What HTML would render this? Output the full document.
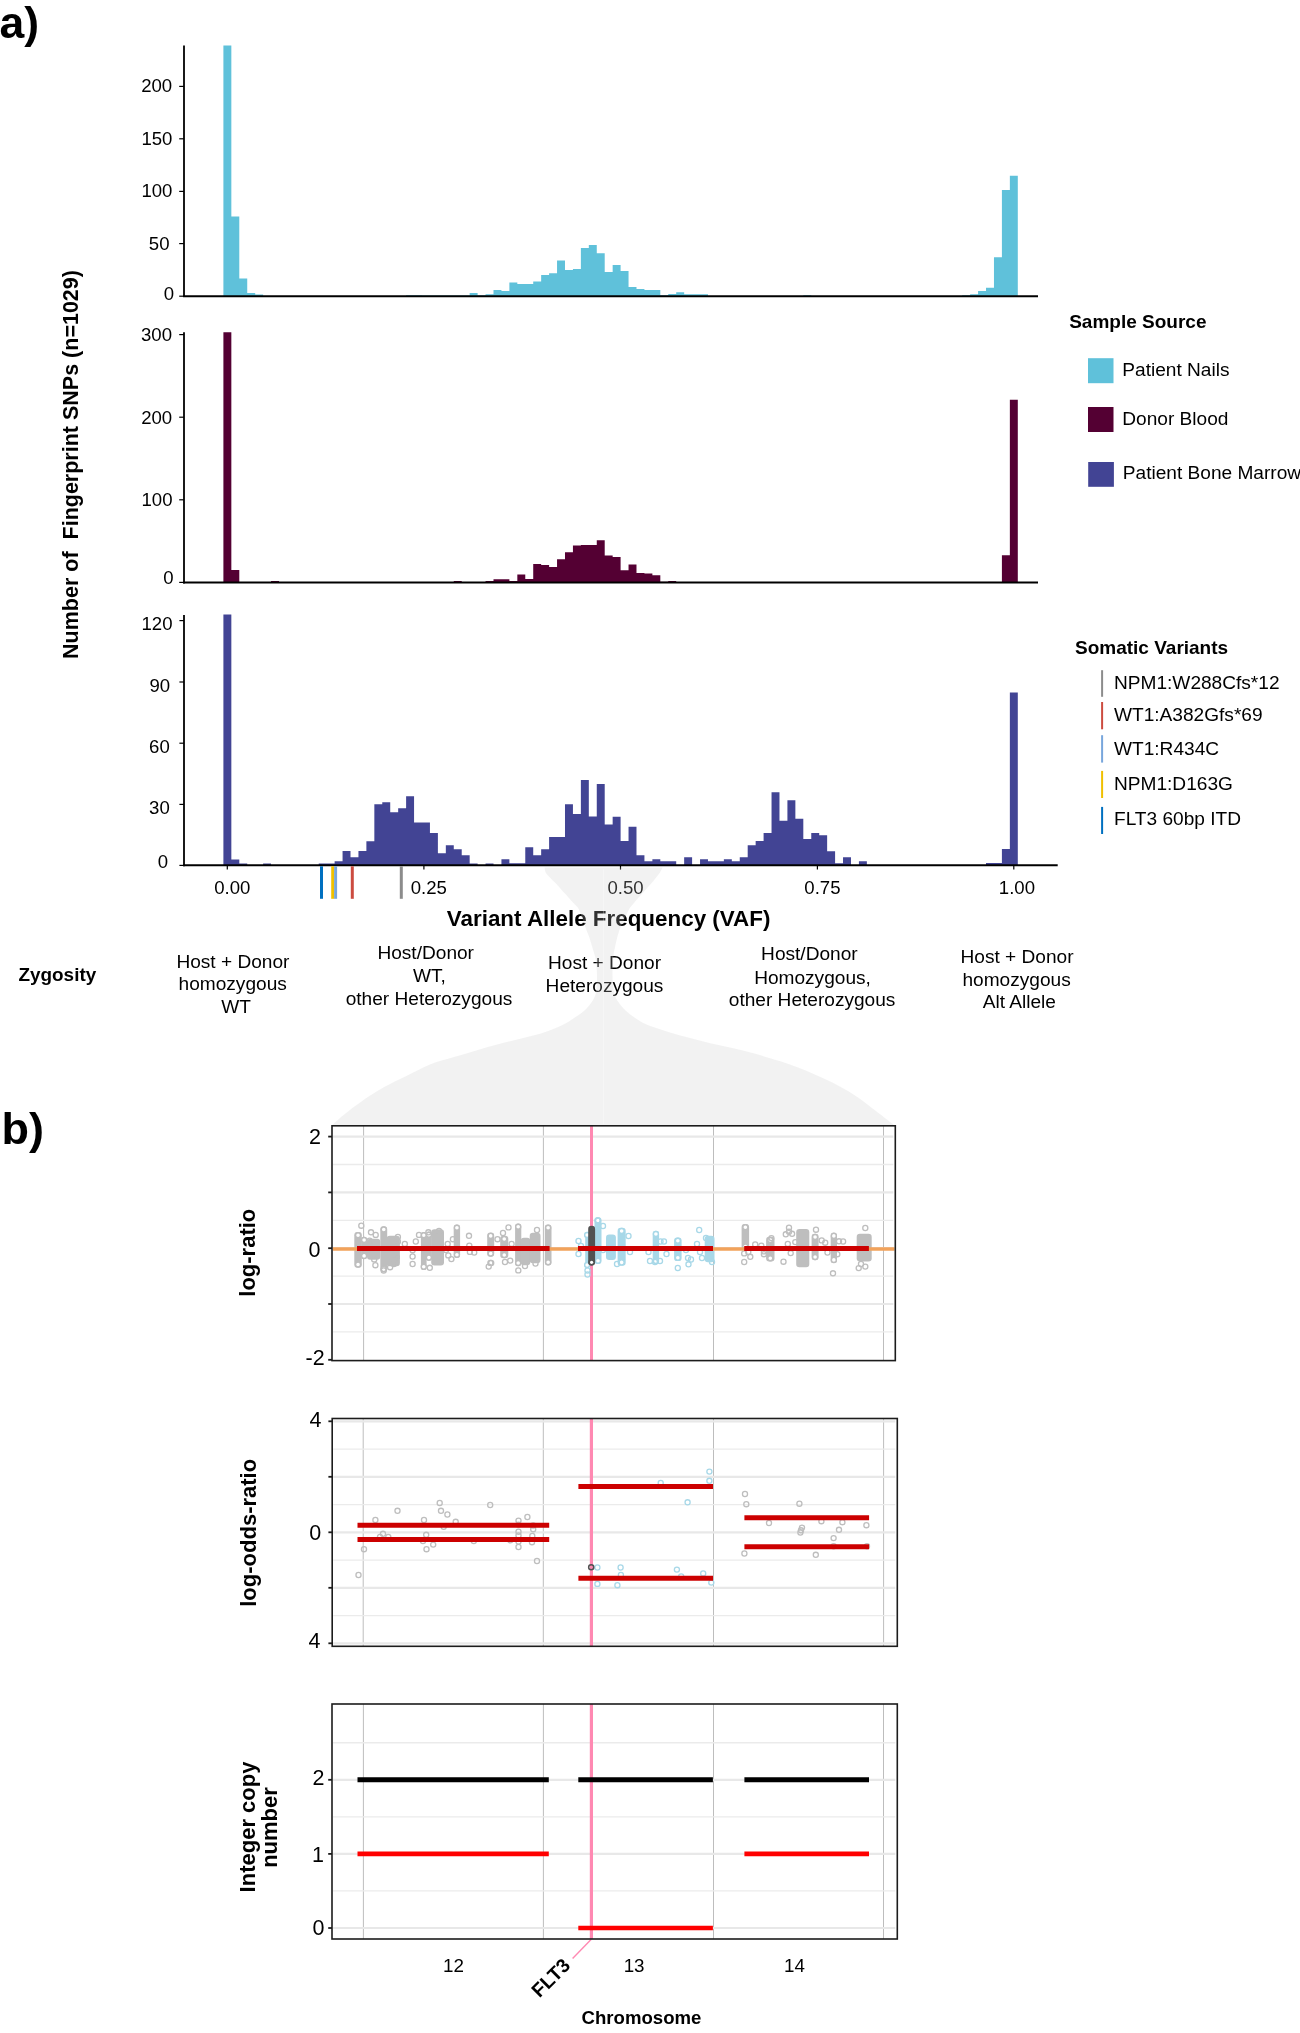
<!DOCTYPE html>
<html><head><meta charset="utf-8"><title>Figure</title>
<style>
html,body{margin:0;padding:0;background:#fff;}
body{width:1300px;height:2033px;overflow:hidden;font-family:"Liberation Sans",sans-serif;}
svg{display:block;position:absolute;left:0;top:0;will-change:transform;}
svg text{font-family:"Liberation Sans",sans-serif;}
</style></head><body>
<svg width="1300" height="2033" viewBox="0 0 1300 2033"><path d="M223.4,296.5L223.4,45.6L231.34,45.6L231.34,216.4L239.29,216.4L239.29,278.4L247.23,278.4L247.23,293L255.18,293L255.18,294.6L263.12,294.6L263.12,296.5L271.06,296.5L271.06,296.5L279.01,296.5L279.01,296.5L286.95,296.5L286.95,296.5L294.9,296.5L294.9,296.5L302.84,296.5L302.84,296.5L310.78,296.5L310.78,296.5L318.73,296.5L318.73,296.5L326.67,296.5L326.67,296.5L334.62,296.5L334.62,296.5L342.56,296.5L342.56,296.5L350.5,296.5L350.5,296.5L358.45,296.5L358.45,296.5L366.39,296.5L366.39,296.5L374.34,296.5L374.34,296.5L382.28,296.5L382.28,296.5L390.22,296.5L390.22,296.5L398.17,296.5L398.17,296.5L406.11,296.5L406.11,295.3L414.06,295.3L414.06,295.3L422,295.3L422,295.4L429.94,295.4L429.94,295.4L437.89,295.4L437.89,295.4L445.83,295.4L445.83,295.4L453.78,295.4L453.78,295.4L461.72,295.4L461.72,295.4L469.66,295.4L469.66,293L477.61,293L477.61,295.2L485.55,295.2L485.55,294.2L493.5,294.2L493.5,290L501.44,290L501.44,291L509.38,291L509.38,282.5L517.33,282.5L517.33,284L525.27,284L525.27,284L533.22,284L533.22,281.5L541.16,281.5L541.16,275L549.1,275L549.1,273.2L557.05,273.2L557.05,260.4L564.99,260.4L564.99,270L572.94,270L572.94,269L580.88,269L580.88,248L588.82,248L588.82,245L596.77,245L596.77,253.2L604.71,253.2L604.71,272L612.66,272L612.66,265L620.6,265L620.6,271L628.54,271L628.54,287L636.49,287L636.49,289L644.43,289L644.43,290L652.38,290L652.38,290L660.32,290L660.32,295.2L668.26,295.2L668.26,294L676.21,294L676.21,292.2L684.15,292.2L684.15,294.2L692.1,294.2L692.1,294.2L700.04,294.2L700.04,294.2L707.98,294.2L707.98,296.5L715.93,296.5L715.93,296.5L723.87,296.5L723.87,296.5L731.82,296.5L731.82,296.5L739.76,296.5L739.76,296.5L747.7,296.5L747.7,296.5L755.65,296.5L755.65,296.5L763.59,296.5L763.59,296.5L771.54,296.5L771.54,296.5L779.48,296.5L779.48,296.5L787.42,296.5L787.42,296.5L795.37,296.5L795.37,296.5L803.31,296.5L803.31,295.2L811.26,295.2L811.26,296.5L819.2,296.5L819.2,296.5L827.14,296.5L827.14,296.5L835.09,296.5L835.09,296.5L843.03,296.5L843.03,296.5L850.98,296.5L850.98,296.5L858.92,296.5L858.92,296.5L866.86,296.5L866.86,296.5L874.81,296.5L874.81,296.5L882.75,296.5L882.75,296.5L890.7,296.5L890.7,296.5L898.64,296.5L898.64,296.5L906.58,296.5L906.58,296.5L914.53,296.5L914.53,296.5L922.47,296.5L922.47,296.5L930.42,296.5L930.42,296.5L938.36,296.5L938.36,296.5L946.3,296.5L946.3,296.5L954.25,296.5L954.25,296.5L962.19,296.5L962.19,295.3L970.14,295.3L970.14,294.2L978.08,294.2L978.08,291L986.02,291L986.02,287.8L993.97,287.8L993.97,257.2L1001.91,257.2L1001.91,190L1009.86,190L1009.86,175.8L1017.8,175.8L1017.8,296.5Z" fill="#5fc1da"/>
<line x1="184" y1="45.6" x2="184" y2="297" stroke="#000" stroke-width="1.8"/>
<line x1="183.1" y1="296.2" x2="1038" y2="296.2" stroke="#000" stroke-width="2"/>
<line x1="179.2" y1="86.4" x2="184" y2="86.4" stroke="#000" stroke-width="1.2"/>
<line x1="179.2" y1="138.8" x2="184" y2="138.8" stroke="#000" stroke-width="1.2"/>
<line x1="179.2" y1="191.4" x2="184" y2="191.4" stroke="#000" stroke-width="1.2"/>
<line x1="179.2" y1="243.6" x2="184" y2="243.6" stroke="#000" stroke-width="1.2"/>
<line x1="179.2" y1="296.2" x2="184" y2="296.2" stroke="#000" stroke-width="1.2"/>
<path d="M223.4,583L223.4,332.2L231.34,332.2L231.34,570L239.29,570L239.29,583L247.23,583L247.23,583L255.18,583L255.18,583L263.12,583L263.12,583L271.06,583L271.06,581L279.01,581L279.01,583L286.95,583L286.95,583L294.9,583L294.9,583L302.84,583L302.84,583L310.78,583L310.78,583L318.73,583L318.73,583L326.67,583L326.67,583L334.62,583L334.62,583L342.56,583L342.56,583L350.5,583L350.5,583L358.45,583L358.45,583L366.39,583L366.39,583L374.34,583L374.34,583L382.28,583L382.28,583L390.22,583L390.22,583L398.17,583L398.17,582.2L406.11,582.2L406.11,582.2L414.06,582.2L414.06,583L422,583L422,583L429.94,583L429.94,583L437.89,583L437.89,583L445.83,583L445.83,583L453.78,583L453.78,581L461.72,581L461.72,583L469.66,583L469.66,583L477.61,583L477.61,583L485.55,583L485.55,581L493.5,581L493.5,579.2L501.44,579.2L501.44,579.2L509.38,579.2L509.38,581L517.33,581L517.33,574.5L525.27,574.5L525.27,579L533.22,579L533.22,564L541.16,564L541.16,565L549.1,565L549.1,567L557.05,567L557.05,559.2L564.99,559.2L564.99,552.2L572.94,552.2L572.94,545.5L580.88,545.5L580.88,545L588.82,545L588.82,545L596.77,545L596.77,540.3L604.71,540.3L604.71,555.5L612.66,555.5L612.66,557L620.6,557L620.6,570.2L628.54,570.2L628.54,564.5L636.49,564.5L636.49,573L644.43,573L644.43,573.5L652.38,573.5L652.38,575.2L660.32,575.2L660.32,581.8L668.26,581.8L668.26,581L676.21,581L676.21,582L684.15,582L684.15,582L692.1,582L692.1,582L700.04,582L700.04,583L707.98,583L707.98,583L715.93,583L715.93,583L723.87,583L723.87,583L731.82,583L731.82,583L739.76,583L739.76,583L747.7,583L747.7,583L755.65,583L755.65,583L763.59,583L763.59,583L771.54,583L771.54,583L779.48,583L779.48,583L787.42,583L787.42,583L795.37,583L795.37,583L803.31,583L803.31,583L811.26,583L811.26,583L819.2,583L819.2,583L827.14,583L827.14,583L835.09,583L835.09,583L843.03,583L843.03,583L850.98,583L850.98,583L858.92,583L858.92,583L866.86,583L866.86,583L874.81,583L874.81,583L882.75,583L882.75,583L890.7,583L890.7,583L898.64,583L898.64,583L906.58,583L906.58,583L914.53,583L914.53,583L922.47,583L922.47,583L930.42,583L930.42,583L938.36,583L938.36,583L946.3,583L946.3,583L954.25,583L954.25,583L962.19,583L962.19,583L970.14,583L970.14,583L978.08,583L978.08,583L986.02,583L986.02,583L993.97,583L993.97,583L1001.91,583L1001.91,555.3L1009.86,555.3L1009.86,399.8L1017.8,399.8L1017.8,583Z" fill="#540033"/>
<line x1="184" y1="332.2" x2="184" y2="583.4" stroke="#000" stroke-width="1.8"/>
<line x1="183.1" y1="582.6" x2="1038" y2="582.6" stroke="#000" stroke-width="2"/>
<line x1="179.2" y1="334.6" x2="184" y2="334.6" stroke="#000" stroke-width="1.2"/>
<line x1="179.2" y1="417.2" x2="184" y2="417.2" stroke="#000" stroke-width="1.2"/>
<line x1="179.2" y1="499.8" x2="184" y2="499.8" stroke="#000" stroke-width="1.2"/>
<line x1="179.2" y1="582.4" x2="184" y2="582.4" stroke="#000" stroke-width="1.2"/>
<path d="M223.4,865.5L223.4,614.6L231.34,614.6L231.34,859.4L239.29,859.4L239.29,863.4L247.23,863.4L247.23,865.5L255.18,865.5L255.18,865.5L263.12,865.5L263.12,863.4L271.06,863.4L271.06,865.5L279.01,865.5L279.01,865.5L286.95,865.5L286.95,865.5L294.9,865.5L294.9,865.5L302.84,865.5L302.84,865.5L310.78,865.5L310.78,865.5L318.73,865.5L318.73,863.6L326.67,863.6L326.67,863.6L334.62,863.6L334.62,861.2L342.56,861.2L342.56,851L350.5,851L350.5,857.2L358.45,857.2L358.45,851L366.39,851L366.39,841.2L374.34,841.2L374.34,804.2L382.28,804.2L382.28,802.2L390.22,802.2L390.22,812.2L398.17,812.2L398.17,808.2L406.11,808.2L406.11,796.2L414.06,796.2L414.06,822.5L422,822.5L422,822.5L429.94,822.5L429.94,833L437.89,833L437.89,853.2L445.83,853.2L445.83,845.2L453.78,845.2L453.78,849.2L461.72,849.2L461.72,855.2L469.66,855.2L469.66,863.5L477.61,863.5L477.61,865.5L485.55,865.5L485.55,863.4L493.5,863.4L493.5,865.5L501.44,865.5L501.44,859.2L509.38,859.2L509.38,863.2L517.33,863.2L517.33,863.2L525.27,863.2L525.27,847.2L533.22,847.2L533.22,855.2L541.16,855.2L541.16,849.2L549.1,849.2L549.1,837L557.05,837L557.05,837L564.99,837L564.99,804.2L572.94,804.2L572.94,814L580.88,814L580.88,780L588.82,780L588.82,816.5L596.77,816.5L596.77,784L604.71,784L604.71,824.5L612.66,824.5L612.66,816.8L620.6,816.8L620.6,841L628.54,841L628.54,826.8L636.49,826.8L636.49,855.2L644.43,855.2L644.43,861.2L652.38,861.2L652.38,859.2L660.32,859.2L660.32,861.2L668.26,861.2L668.26,861.2L676.21,861.2L676.21,865.5L684.15,865.5L684.15,857.2L692.1,857.2L692.1,865.5L700.04,865.5L700.04,859.2L707.98,859.2L707.98,861.2L715.93,861.2L715.93,861.2L723.87,861.2L723.87,859.2L731.82,859.2L731.82,861.2L739.76,861.2L739.76,857.2L747.7,857.2L747.7,845.2L755.65,845.2L755.65,841L763.59,841L763.59,833L771.54,833L771.54,792.2L779.48,792.2L779.48,820.8L787.42,820.8L787.42,800.2L795.37,800.2L795.37,818.8L803.31,818.8L803.31,839L811.26,839L811.26,833L819.2,833L819.2,835.2L827.14,835.2L827.14,851.2L835.09,851.2L835.09,863.2L843.03,863.2L843.03,857.2L850.98,857.2L850.98,865.5L858.92,865.5L858.92,861.2L866.86,861.2L866.86,865.5L874.81,865.5L874.81,865.5L882.75,865.5L882.75,865.5L890.7,865.5L890.7,865.5L898.64,865.5L898.64,865.5L906.58,865.5L906.58,865.5L914.53,865.5L914.53,865.5L922.47,865.5L922.47,865.5L930.42,865.5L930.42,865.5L938.36,865.5L938.36,865.5L946.3,865.5L946.3,865.5L954.25,865.5L954.25,865.5L962.19,865.5L962.19,865.5L970.14,865.5L970.14,865.5L978.08,865.5L978.08,865.5L986.02,865.5L986.02,863.1L993.97,863.1L993.97,863.1L1001.91,863.1L1001.91,849L1009.86,849L1009.86,692.5L1017.8,692.5L1017.8,865.5Z" fill="#424494"/>
<line x1="184" y1="615" x2="184" y2="866.2" stroke="#000" stroke-width="1.8"/>
<line x1="183.1" y1="865.3" x2="1057.7" y2="865.3" stroke="#000" stroke-width="2"/>
<line x1="179.4" y1="620.6" x2="184" y2="620.6" stroke="#000" stroke-width="1.2"/>
<line x1="179.4" y1="682" x2="184" y2="682" stroke="#000" stroke-width="1.2"/>
<line x1="179.4" y1="743.2" x2="184" y2="743.2" stroke="#000" stroke-width="1.2"/>
<line x1="179.4" y1="804.4" x2="184" y2="804.4" stroke="#000" stroke-width="1.2"/>
<line x1="179.4" y1="865.4" x2="184" y2="865.4" stroke="#000" stroke-width="1.2"/>
<line x1="227.3" y1="865" x2="227.3" y2="869.6" stroke="#000" stroke-width="1.2"/>
<line x1="423.9" y1="865" x2="423.9" y2="869.6" stroke="#000" stroke-width="1.2"/>
<line x1="620.5" y1="865" x2="620.5" y2="869.6" stroke="#000" stroke-width="1.2"/>
<line x1="817.4" y1="865" x2="817.4" y2="869.6" stroke="#000" stroke-width="1.2"/>
<line x1="1013.8" y1="865" x2="1013.8" y2="869.6" stroke="#000" stroke-width="1.2"/>
<line x1="321.5" y1="866.3" x2="321.5" y2="898.8" stroke="#0070c0" stroke-width="3"/>
<line x1="332.7" y1="866.3" x2="332.7" y2="898.8" stroke="#f0c000" stroke-width="3"/>
<line x1="335.6" y1="866.3" x2="335.6" y2="898.8" stroke="#78a6dc" stroke-width="3"/>
<line x1="352.3" y1="866.3" x2="352.3" y2="898.8" stroke="#cc4c40" stroke-width="3"/>
<line x1="401.3" y1="866.3" x2="401.3" y2="898.8" stroke="#8c8c8c" stroke-width="3"/>
<g font-family="Liberation Sans, sans-serif">
<text x="-0.6" y="38.2" font-size="44.5" font-weight="bold">a)</text>
<text x="156.65" y="92.4" font-size="18.6" text-anchor="middle">200</text>
<text x="156.95" y="144.6" font-size="18.6" text-anchor="middle">150</text>
<text x="156.95" y="197.2" font-size="18.6" text-anchor="middle">100</text>
<text x="159.2" y="249.8" font-size="18.6" text-anchor="middle">50</text>
<text x="168.9" y="300.2" font-size="18.6" text-anchor="middle">0</text>
<text x="156.55" y="341" font-size="18.6" text-anchor="middle">300</text>
<text x="156.65" y="423.7" font-size="18.6" text-anchor="middle">200</text>
<text x="157.05" y="505.8" font-size="18.6" text-anchor="middle">100</text>
<text x="168.35" y="583.5" font-size="18.6" text-anchor="middle">0</text>
<text x="157.05" y="630" font-size="18.6" text-anchor="middle">120</text>
<text x="159.75" y="691.7" font-size="18.6" text-anchor="middle">90</text>
<text x="159.45" y="752.8" font-size="18.6" text-anchor="middle">60</text>
<text x="159.45" y="813.9" font-size="18.6" text-anchor="middle">30</text>
<text x="162.9" y="867.6" font-size="18.6" text-anchor="middle">0</text>
<text x="232.3" y="894.4" font-size="18.6" text-anchor="middle">0.00</text>
<text x="428.75" y="894.4" font-size="18.6" text-anchor="middle">0.25</text>
<text x="625.55" y="894.4" font-size="18.6" text-anchor="middle">0.50</text>
<text x="822.45" y="894.4" font-size="18.6" text-anchor="middle">0.75</text>
<text x="1016.9" y="894.4" font-size="18.6" text-anchor="middle">1.00</text>
<text transform="translate(78.2,464.5) rotate(-90)" font-size="21.5" font-weight="bold" text-anchor="middle">Number of&#160; Fingerprint SNPs (n=1029)</text>
<text x="608.6" y="925.5" font-size="22.4" font-weight="bold" text-anchor="middle">Variant Allele Frequency (VAF)</text>
<text x="1069.2" y="327.7" font-size="19" font-weight="bold">Sample Source</text>
<rect x="1088" y="358.2" width="25.5" height="25" fill="#5fc1da"/>
<rect x="1088" y="407" width="25.5" height="25" fill="#540033"/>
<rect x="1088.2" y="462" width="25.7" height="24.8" fill="#424494"/>
<text x="1122.3" y="375.7" font-size="19.1">Patient Nails</text>
<text x="1122.3" y="424.6" font-size="19.1">Donor Blood</text>
<text x="1122.8" y="479" font-size="19.1">Patient Bone Marrow</text>
<text x="1075" y="653.6" font-size="19" font-weight="bold">Somatic Variants</text>
<line x1="1102.1" y1="670.2" x2="1102.1" y2="696.8" stroke="#8c8c8c" stroke-width="2"/>
<line x1="1102.1" y1="702" x2="1102.1" y2="729.3" stroke="#cc4c40" stroke-width="2"/>
<line x1="1102.1" y1="735.2" x2="1102.1" y2="762.6" stroke="#78a6dc" stroke-width="2"/>
<line x1="1102.1" y1="770.9" x2="1102.1" y2="798" stroke="#f0c000" stroke-width="2"/>
<line x1="1102.1" y1="806.9" x2="1102.1" y2="834" stroke="#0070c0" stroke-width="2"/>
<text x="1114" y="688.7" font-size="19.1">NPM1:W288Cfs*12</text>
<text x="1114" y="720.8" font-size="19.1">WT1:A382Gfs*69</text>
<text x="1114" y="754.6" font-size="19.1">WT1:R434C</text>
<text x="1114" y="789.7" font-size="19.1">NPM1:D163G</text>
<text x="1114" y="825.3" font-size="19.1">FLT3 60bp ITD</text>
<text x="18.5" y="980.8" font-size="18.9" font-weight="bold">Zygosity</text>
<text x="232.9" y="967.6" font-size="19.1" text-anchor="middle">Host + Donor</text>
<text x="232.7" y="990.2" font-size="19.1" text-anchor="middle">homozygous</text>
<text x="236" y="1012.5" font-size="19.1" text-anchor="middle">WT</text>
<text x="425.7" y="959.3" font-size="19.1" text-anchor="middle">Host/Donor</text>
<text x="429.4" y="982" font-size="19.1" text-anchor="middle">WT,</text>
<text x="429" y="1004.9" font-size="19.1" text-anchor="middle">other Heterozygous</text>
<text x="604.5" y="969" font-size="19.1" text-anchor="middle">Host + Donor</text>
<text x="604.5" y="991.8" font-size="19.1" text-anchor="middle">Heterozygous</text>
<text x="809.4" y="960.1" font-size="19.1" text-anchor="middle">Host/Donor</text>
<text x="812.5" y="983.5" font-size="19.1" text-anchor="middle">Homozygous,</text>
<text x="812.1" y="1006" font-size="19.1" text-anchor="middle">other Heterozygous</text>
<text x="1017" y="962.7" font-size="19.1" text-anchor="middle">Host + Donor</text>
<text x="1016.6" y="985.5" font-size="19.1" text-anchor="middle">homozygous</text>
<text x="1019.3" y="1008" font-size="19.1" text-anchor="middle">Alt Allele</text>
</g>
<path d="M544.6,867.6C544.8,868.47 544.8,871.03 545.8,872.8C546.8,874.57 548.9,876.42 550.6,878.2C552.3,879.98 554.3,881.72 556,883.5C557.7,885.28 559.18,887.1 560.8,888.9C562.42,890.7 564.08,892.5 565.7,894.3C567.32,896.1 568.88,897.9 570.5,899.7C572.12,901.5 573.92,903.3 575.4,905.1C576.88,906.9 577.78,906.92 579.4,910.5C581.02,914.08 583.8,923.02 585.1,926.6C586.4,930.18 586.48,930.2 587.2,932C587.92,933.8 588.77,935.6 589.4,937.4C590.03,939.2 590.47,941 591,942.8C591.53,944.6 592.07,946.42 592.6,948.2C593.13,949.98 593.65,951.53 594.2,953.5C594.75,955.47 595.47,957.25 595.9,960C596.33,962.75 596.62,966.67 596.8,970C596.98,973.33 597.05,976.67 597,980C596.95,983.33 596.9,987.18 596.5,990C596.1,992.82 595.6,994.6 594.6,996.9C593.6,999.2 592.23,1001.48 590.5,1003.8C588.77,1006.12 586.87,1008.48 584.2,1010.8C581.53,1013.12 578.12,1015.33 574.5,1017.7C570.88,1020.07 567.35,1022.63 562.5,1025C557.65,1027.37 552.1,1029.68 545.4,1031.9C538.7,1034.12 530,1036.28 522.3,1038.3C514.6,1040.32 506.88,1041.98 499.2,1044C491.52,1046.02 483.88,1048.18 476.2,1050.4C468.52,1052.62 460.8,1054.95 453.1,1057.3C445.4,1059.65 437.7,1061.42 430,1064.5C422.3,1067.58 414.6,1072 406.9,1075.8C399.2,1079.6 391.48,1082.95 383.8,1087.3C376.12,1091.65 367.2,1097.53 360.8,1101.9C354.4,1106.27 349.9,1109.9 345.4,1113.5C340.9,1117.1 335.95,1121.58 333.8,1123.5C331.65,1125.42 332.72,1124.75 332.5,1125L893.5,1125C893.17,1124.67 894.65,1125.52 891.5,1123C888.35,1120.48 880.23,1114.2 874.6,1109.9C868.97,1105.6 863.33,1101 857.7,1097.2C852.07,1093.4 846.45,1090.2 840.8,1087.1C835.15,1084 829.45,1081.28 823.8,1078.6C818.15,1075.92 812.53,1073.35 806.9,1071C801.27,1068.65 794.73,1066.2 790,1064.5C785.27,1062.8 784.27,1062.58 778.5,1060.8C772.73,1059.02 763.1,1055.92 755.4,1053.8C747.7,1051.68 740,1049.92 732.3,1048.1C724.6,1046.28 716.88,1044.73 709.2,1042.9C701.52,1041.07 693.88,1039.22 686.2,1037.1C678.52,1034.98 669.7,1032.28 663.1,1030.2C656.5,1028.12 651.32,1026.68 646.6,1024.6C641.88,1022.52 638.27,1020 634.8,1017.7C631.33,1015.4 628.33,1013.12 625.8,1010.8C623.27,1008.48 621.33,1006.12 619.6,1003.8C617.87,1001.48 616.42,999.2 615.4,996.9C614.38,994.6 613.97,992.82 613.5,990C613.03,987.18 612.77,983.33 612.6,980C612.43,976.67 612.45,973.33 612.5,970C612.55,966.67 612.7,962.75 612.9,960C613.1,957.25 613.38,955.47 613.7,953.5C614.02,951.53 614.43,949.98 614.8,948.2C615.17,946.42 615.5,944.6 615.9,942.8C616.3,941 616.72,939.2 617.2,937.4C617.68,935.6 618.17,933.8 618.8,932C619.43,930.2 619.38,930.18 621,926.6C622.62,923.02 626.62,914.08 628.5,910.5C630.38,906.92 630.95,906.9 632.3,905.1C633.65,903.3 635.07,901.5 636.6,899.7C638.13,897.9 639.88,896.1 641.5,894.3C643.12,892.5 644.68,890.7 646.3,888.9C647.92,887.1 649.67,885.28 651.2,883.5C652.73,881.72 654.07,879.98 655.5,878.2C656.93,876.42 658.62,874.57 659.8,872.8C660.98,871.03 662.13,868.47 662.6,867.6Z" fill="#c9c9c9" fill-opacity="0.24"/>
<line x1="603.6" y1="869" x2="603.6" y2="1124" stroke="#ffffff" stroke-width="0.6" stroke-opacity="0.5"/>
<rect x="332" y="1125.8" width="563.3" height="234.8" fill="#fff"/>
<line x1="363.6" y1="1125.8" x2="363.6" y2="1360.6" stroke="#bdbdbd" stroke-width="1"/>
<line x1="543.4" y1="1125.8" x2="543.4" y2="1360.6" stroke="#bdbdbd" stroke-width="1"/>
<line x1="713.5" y1="1125.8" x2="713.5" y2="1360.6" stroke="#bdbdbd" stroke-width="1"/>
<line x1="883.5" y1="1125.8" x2="883.5" y2="1360.6" stroke="#bdbdbd" stroke-width="1"/>
<line x1="333" y1="1164.5" x2="893.3" y2="1164.5" stroke="#ebebeb" stroke-width="1.3"/>
<line x1="333" y1="1220.3" x2="893.3" y2="1220.3" stroke="#ebebeb" stroke-width="1.3"/>
<line x1="333" y1="1276.1" x2="893.3" y2="1276.1" stroke="#ebebeb" stroke-width="1.3"/>
<line x1="333" y1="1331.9" x2="893.3" y2="1331.9" stroke="#ebebeb" stroke-width="1.3"/>
<line x1="333" y1="1136.6" x2="893.3" y2="1136.6" stroke="#e8e8e8" stroke-width="2.2"/>
<line x1="333" y1="1192.4" x2="893.3" y2="1192.4" stroke="#e8e8e8" stroke-width="2.2"/>
<line x1="333" y1="1248.2" x2="893.3" y2="1248.2" stroke="#e8e8e8" stroke-width="2.2"/>
<line x1="333" y1="1304" x2="893.3" y2="1304" stroke="#e8e8e8" stroke-width="2.2"/>
<line x1="591.5" y1="1125.8" x2="591.5" y2="1360.6" stroke="#ff89b2" stroke-width="3"/>
<rect x="354.3" y="1232" width="7.5" height="35.8" rx="3.2" fill="#bebebe"/>
<circle cx="358.05" cy="1235.3" r="2.5" fill="#fff" stroke="#bebebe" stroke-width="1.4"/>
<circle cx="358.05" cy="1264.5" r="2.5" fill="#fff" stroke="#bebebe" stroke-width="1.4"/>
<rect x="361.2" y="1236.7" width="5.8" height="22.5" rx="3.2" fill="#bebebe"/>
<circle cx="364.1" cy="1240" r="2.5" fill="#fff" stroke="#bebebe" stroke-width="1.4"/>
<circle cx="364.1" cy="1255.9" r="2.5" fill="#fff" stroke="#bebebe" stroke-width="1.4"/>
<rect x="367" y="1238.7" width="13.3" height="21.1" rx="3.2" fill="#bebebe"/>
<rect x="380.3" y="1226.2" width="6.9" height="46.2" rx="3.2" fill="#bebebe"/>
<circle cx="383.75" cy="1229.5" r="2.5" fill="#fff" stroke="#bebebe" stroke-width="1.4"/>
<circle cx="383.75" cy="1269.1" r="2.5" fill="#fff" stroke="#bebebe" stroke-width="1.4"/>
<rect x="386.6" y="1235.7" width="13.3" height="30.6" rx="3.2" fill="#bebebe"/>
<rect x="420.9" y="1232" width="5.7" height="38.1" rx="3.2" fill="#bebebe"/>
<circle cx="423.75" cy="1235.3" r="2.5" fill="#fff" stroke="#bebebe" stroke-width="1.4"/>
<circle cx="423.75" cy="1266.8" r="2.5" fill="#fff" stroke="#bebebe" stroke-width="1.4"/>
<rect x="426" y="1231.4" width="5.8" height="29.5" rx="3.2" fill="#bebebe"/>
<circle cx="428.9" cy="1234.7" r="2.5" fill="#fff" stroke="#bebebe" stroke-width="1.4"/>
<circle cx="428.9" cy="1257.6" r="2.5" fill="#fff" stroke="#bebebe" stroke-width="1.4"/>
<rect x="431.2" y="1229.2" width="12.8" height="36.3" rx="3.2" fill="#bebebe"/>
<rect x="453.7" y="1224.5" width="6.4" height="33.5" rx="3.2" fill="#bebebe"/>
<circle cx="456.9" cy="1227.8" r="2.5" fill="#fff" stroke="#bebebe" stroke-width="1.4"/>
<circle cx="456.9" cy="1254.7" r="2.5" fill="#fff" stroke="#bebebe" stroke-width="1.4"/>
<rect x="487.2" y="1232.6" width="7" height="24.2" rx="3.2" fill="#bebebe"/>
<circle cx="490.7" cy="1235.9" r="2.5" fill="#fff" stroke="#bebebe" stroke-width="1.4"/>
<circle cx="490.7" cy="1253.5" r="2.5" fill="#fff" stroke="#bebebe" stroke-width="1.4"/>
<rect x="500.2" y="1235.7" width="8.1" height="22.6" rx="3.2" fill="#bebebe"/>
<circle cx="504.25" cy="1239" r="2.5" fill="#fff" stroke="#bebebe" stroke-width="1.4"/>
<circle cx="504.25" cy="1255" r="2.5" fill="#fff" stroke="#bebebe" stroke-width="1.4"/>
<rect x="515.1" y="1223.4" width="6.2" height="42.9" rx="3.2" fill="#bebebe"/>
<circle cx="518.2" cy="1226.7" r="2.5" fill="#fff" stroke="#bebebe" stroke-width="1.4"/>
<circle cx="518.2" cy="1263" r="2.5" fill="#fff" stroke="#bebebe" stroke-width="1.4"/>
<rect x="520.7" y="1237.7" width="9.6" height="27.6" rx="3.2" fill="#bebebe"/>
<rect x="529.7" y="1232.7" width="10.8" height="30.6" rx="3.2" fill="#bebebe"/>
<rect x="544.8" y="1224.5" width="6.7" height="41" rx="3.2" fill="#bebebe"/>
<circle cx="548.15" cy="1227.8" r="2.5" fill="#fff" stroke="#bebebe" stroke-width="1.4"/>
<circle cx="548.15" cy="1262.2" r="2.5" fill="#fff" stroke="#bebebe" stroke-width="1.4"/>
<rect x="741.6" y="1223.9" width="7.5" height="26" rx="3.2" fill="#bebebe"/>
<circle cx="745.35" cy="1227.2" r="2.5" fill="#fff" stroke="#bebebe" stroke-width="1.4"/>
<circle cx="745.35" cy="1246.6" r="2.5" fill="#fff" stroke="#bebebe" stroke-width="1.4"/>
<rect x="766.1" y="1236.7" width="8.4" height="24.8" rx="3.2" fill="#bebebe"/>
<circle cx="770.3" cy="1240" r="2.5" fill="#fff" stroke="#bebebe" stroke-width="1.4"/>
<circle cx="770.3" cy="1258.2" r="2.5" fill="#fff" stroke="#bebebe" stroke-width="1.4"/>
<rect x="796.2" y="1229.1" width="13.1" height="38.2" rx="3.2" fill="#bebebe"/>
<rect x="811.6" y="1233.7" width="7" height="26.6" rx="3.2" fill="#bebebe"/>
<circle cx="815.1" cy="1237" r="2.5" fill="#fff" stroke="#bebebe" stroke-width="1.4"/>
<circle cx="815.1" cy="1257" r="2.5" fill="#fff" stroke="#bebebe" stroke-width="1.4"/>
<rect x="830.7" y="1232.6" width="6.3" height="30.6" rx="3.2" fill="#bebebe"/>
<circle cx="833.85" cy="1235.9" r="2.5" fill="#fff" stroke="#bebebe" stroke-width="1.4"/>
<circle cx="833.85" cy="1259.9" r="2.5" fill="#fff" stroke="#bebebe" stroke-width="1.4"/>
<rect x="856.7" y="1233.7" width="15" height="27.8" rx="3.2" fill="#bebebe"/>
<rect x="594.5" y="1217.2" width="7" height="46.8" rx="3.2" fill="#a8d8e8"/>
<circle cx="598" cy="1220.5" r="2.5" fill="#fff" stroke="#a8d8e8" stroke-width="1.4"/>
<circle cx="598" cy="1260.7" r="2.5" fill="#fff" stroke="#a8d8e8" stroke-width="1.4"/>
<rect x="585.2" y="1231.7" width="3.9" height="36.6" rx="3.2" fill="#a8d8e8"/>
<circle cx="587.15" cy="1235" r="2.5" fill="#fff" stroke="#a8d8e8" stroke-width="1.4"/>
<circle cx="587.15" cy="1265" r="2.5" fill="#fff" stroke="#a8d8e8" stroke-width="1.4"/>
<rect x="606" y="1234.5" width="9.9" height="25.4" rx="3.2" fill="#a8d8e8"/>
<rect x="617.6" y="1227.7" width="8.1" height="38" rx="3.2" fill="#a8d8e8"/>
<circle cx="621.65" cy="1231" r="2.5" fill="#fff" stroke="#a8d8e8" stroke-width="1.4"/>
<circle cx="621.65" cy="1262.4" r="2.5" fill="#fff" stroke="#a8d8e8" stroke-width="1.4"/>
<rect x="652.7" y="1230.7" width="6.4" height="33.6" rx="3.2" fill="#a8d8e8"/>
<circle cx="655.9" cy="1234" r="2.5" fill="#fff" stroke="#a8d8e8" stroke-width="1.4"/>
<circle cx="655.9" cy="1261" r="2.5" fill="#fff" stroke="#a8d8e8" stroke-width="1.4"/>
<rect x="674.1" y="1237.4" width="7.5" height="23.7" rx="3.2" fill="#a8d8e8"/>
<circle cx="677.85" cy="1240.7" r="2.5" fill="#fff" stroke="#a8d8e8" stroke-width="1.4"/>
<circle cx="677.85" cy="1257.8" r="2.5" fill="#fff" stroke="#a8d8e8" stroke-width="1.4"/>
<rect x="704.7" y="1235.7" width="9.8" height="26.6" rx="3.2" fill="#a8d8e8"/>
<circle cx="361.3" cy="1225.7" r="2.55" fill="none" stroke="#bebebe" stroke-width="1.3"/>
<circle cx="371" cy="1232.3" r="2.55" fill="none" stroke="#bebebe" stroke-width="1.3"/>
<circle cx="375.7" cy="1234.9" r="2.55" fill="none" stroke="#bebebe" stroke-width="1.3"/>
<circle cx="369.6" cy="1240.7" r="2.55" fill="none" stroke="#bebebe" stroke-width="1.3"/>
<circle cx="374.2" cy="1259.4" r="2.55" fill="none" stroke="#bebebe" stroke-width="1.3"/>
<circle cx="375.4" cy="1265.2" r="2.55" fill="none" stroke="#bebebe" stroke-width="1.3"/>
<circle cx="397.9" cy="1237" r="2.55" fill="none" stroke="#bebebe" stroke-width="1.3"/>
<circle cx="397.9" cy="1241.5" r="2.55" fill="none" stroke="#bebebe" stroke-width="1.3"/>
<circle cx="396.7" cy="1257" r="2.55" fill="none" stroke="#bebebe" stroke-width="1.3"/>
<circle cx="393.9" cy="1264" r="2.55" fill="none" stroke="#bebebe" stroke-width="1.3"/>
<circle cx="390.1" cy="1267.2" r="2.55" fill="none" stroke="#bebebe" stroke-width="1.3"/>
<circle cx="383.7" cy="1270.5" r="2.55" fill="none" stroke="#bebebe" stroke-width="1.3"/>
<circle cx="404.8" cy="1243.9" r="2.55" fill="none" stroke="#bebebe" stroke-width="1.3"/>
<circle cx="412.6" cy="1256.5" r="2.55" fill="none" stroke="#bebebe" stroke-width="1.3"/>
<circle cx="412.6" cy="1264" r="2.55" fill="none" stroke="#bebebe" stroke-width="1.3"/>
<circle cx="412.6" cy="1250.2" r="2.55" fill="none" stroke="#bebebe" stroke-width="1.3"/>
<circle cx="415.8" cy="1241.5" r="2.55" fill="none" stroke="#bebebe" stroke-width="1.3"/>
<circle cx="419" cy="1234.9" r="2.55" fill="none" stroke="#bebebe" stroke-width="1.3"/>
<circle cx="429.8" cy="1267.8" r="2.55" fill="none" stroke="#bebebe" stroke-width="1.3"/>
<circle cx="428.4" cy="1232.3" r="2.55" fill="none" stroke="#bebebe" stroke-width="1.3"/>
<circle cx="447.7" cy="1243.9" r="2.55" fill="none" stroke="#bebebe" stroke-width="1.3"/>
<circle cx="448.3" cy="1255.4" r="2.55" fill="none" stroke="#bebebe" stroke-width="1.3"/>
<circle cx="451.4" cy="1259.1" r="2.55" fill="none" stroke="#bebebe" stroke-width="1.3"/>
<circle cx="452.9" cy="1239.2" r="2.55" fill="none" stroke="#bebebe" stroke-width="1.3"/>
<circle cx="446" cy="1250" r="2.55" fill="none" stroke="#bebebe" stroke-width="1.3"/>
<circle cx="469" cy="1235.8" r="2.55" fill="none" stroke="#bebebe" stroke-width="1.3"/>
<circle cx="469.3" cy="1245.6" r="2.55" fill="none" stroke="#bebebe" stroke-width="1.3"/>
<circle cx="469.9" cy="1251.9" r="2.55" fill="none" stroke="#bebebe" stroke-width="1.3"/>
<circle cx="474.2" cy="1252.5" r="2.55" fill="none" stroke="#bebebe" stroke-width="1.3"/>
<circle cx="490.4" cy="1262.9" r="2.55" fill="none" stroke="#bebebe" stroke-width="1.3"/>
<circle cx="488.7" cy="1266.6" r="2.55" fill="none" stroke="#bebebe" stroke-width="1.3"/>
<circle cx="508.5" cy="1227.4" r="2.55" fill="none" stroke="#bebebe" stroke-width="1.3"/>
<circle cx="497.5" cy="1239.2" r="2.55" fill="none" stroke="#bebebe" stroke-width="1.3"/>
<circle cx="511.6" cy="1243.9" r="2.55" fill="none" stroke="#bebebe" stroke-width="1.3"/>
<circle cx="510.2" cy="1260.6" r="2.55" fill="none" stroke="#bebebe" stroke-width="1.3"/>
<circle cx="491.2" cy="1262.9" r="2.55" fill="none" stroke="#bebebe" stroke-width="1.3"/>
<circle cx="518.3" cy="1270.4" r="2.55" fill="none" stroke="#bebebe" stroke-width="1.3"/>
<circle cx="537" cy="1230" r="2.55" fill="none" stroke="#bebebe" stroke-width="1.3"/>
<circle cx="535.5" cy="1263.5" r="2.55" fill="none" stroke="#bebebe" stroke-width="1.3"/>
<circle cx="503" cy="1233" r="2.55" fill="none" stroke="#bebebe" stroke-width="1.3"/>
<circle cx="505" cy="1262" r="2.55" fill="none" stroke="#bebebe" stroke-width="1.3"/>
<circle cx="439" cy="1230.9" r="2.55" fill="none" stroke="#bebebe" stroke-width="1.3"/>
<circle cx="525" cy="1266" r="2.55" fill="none" stroke="#bebebe" stroke-width="1.3"/>
<circle cx="744.2" cy="1253.4" r="2.55" fill="none" stroke="#bebebe" stroke-width="1.3"/>
<circle cx="748.3" cy="1251.9" r="2.55" fill="none" stroke="#bebebe" stroke-width="1.3"/>
<circle cx="750.3" cy="1256.8" r="2.55" fill="none" stroke="#bebebe" stroke-width="1.3"/>
<circle cx="744.2" cy="1262" r="2.55" fill="none" stroke="#bebebe" stroke-width="1.3"/>
<circle cx="755.2" cy="1244.4" r="2.55" fill="none" stroke="#bebebe" stroke-width="1.3"/>
<circle cx="761.3" cy="1245.6" r="2.55" fill="none" stroke="#bebebe" stroke-width="1.3"/>
<circle cx="763.9" cy="1254.2" r="2.55" fill="none" stroke="#bebebe" stroke-width="1.3"/>
<circle cx="763.9" cy="1251.4" r="2.55" fill="none" stroke="#bebebe" stroke-width="1.3"/>
<circle cx="771.4" cy="1238.1" r="2.55" fill="none" stroke="#bebebe" stroke-width="1.3"/>
<circle cx="783.5" cy="1261.7" r="2.55" fill="none" stroke="#bebebe" stroke-width="1.3"/>
<circle cx="789" cy="1227.7" r="2.55" fill="none" stroke="#bebebe" stroke-width="1.3"/>
<circle cx="785.8" cy="1234.3" r="2.55" fill="none" stroke="#bebebe" stroke-width="1.3"/>
<circle cx="792.1" cy="1233.8" r="2.55" fill="none" stroke="#bebebe" stroke-width="1.3"/>
<circle cx="789" cy="1231.7" r="2.55" fill="none" stroke="#bebebe" stroke-width="1.3"/>
<circle cx="787.8" cy="1243.9" r="2.55" fill="none" stroke="#bebebe" stroke-width="1.3"/>
<circle cx="790.7" cy="1253.1" r="2.55" fill="none" stroke="#bebebe" stroke-width="1.3"/>
<circle cx="795.3" cy="1242.1" r="2.55" fill="none" stroke="#bebebe" stroke-width="1.3"/>
<circle cx="816" cy="1229.7" r="2.55" fill="none" stroke="#bebebe" stroke-width="1.3"/>
<circle cx="821.7" cy="1240.4" r="2.55" fill="none" stroke="#bebebe" stroke-width="1.3"/>
<circle cx="825.2" cy="1242.7" r="2.55" fill="none" stroke="#bebebe" stroke-width="1.3"/>
<circle cx="827.5" cy="1252.5" r="2.55" fill="none" stroke="#bebebe" stroke-width="1.3"/>
<circle cx="839" cy="1241.3" r="2.55" fill="none" stroke="#bebebe" stroke-width="1.3"/>
<circle cx="843.1" cy="1241.5" r="2.55" fill="none" stroke="#bebebe" stroke-width="1.3"/>
<circle cx="837.3" cy="1254.2" r="2.55" fill="none" stroke="#bebebe" stroke-width="1.3"/>
<circle cx="833" cy="1273.3" r="2.55" fill="none" stroke="#bebebe" stroke-width="1.3"/>
<circle cx="865.3" cy="1228" r="2.55" fill="none" stroke="#bebebe" stroke-width="1.3"/>
<circle cx="858.7" cy="1268.1" r="2.55" fill="none" stroke="#bebebe" stroke-width="1.3"/>
<circle cx="865.3" cy="1266.6" r="2.55" fill="none" stroke="#bebebe" stroke-width="1.3"/>
<circle cx="861" cy="1264" r="2.55" fill="none" stroke="#bebebe" stroke-width="1.3"/>
<circle cx="597.6" cy="1220.4" r="2.55" fill="none" stroke="#a8d8e8" stroke-width="1.3"/>
<circle cx="587.5" cy="1270.5" r="2.55" fill="none" stroke="#a8d8e8" stroke-width="1.3"/>
<circle cx="587.5" cy="1274.5" r="2.55" fill="none" stroke="#a8d8e8" stroke-width="1.3"/>
<circle cx="578.5" cy="1241" r="2.55" fill="none" stroke="#a8d8e8" stroke-width="1.3"/>
<circle cx="578.5" cy="1254" r="2.55" fill="none" stroke="#a8d8e8" stroke-width="1.3"/>
<circle cx="581" cy="1246" r="2.55" fill="none" stroke="#a8d8e8" stroke-width="1.3"/>
<circle cx="617" cy="1264" r="2.55" fill="none" stroke="#a8d8e8" stroke-width="1.3"/>
<circle cx="628.5" cy="1236" r="2.55" fill="none" stroke="#a8d8e8" stroke-width="1.3"/>
<circle cx="630" cy="1252" r="2.55" fill="none" stroke="#a8d8e8" stroke-width="1.3"/>
<circle cx="648.5" cy="1252" r="2.55" fill="none" stroke="#a8d8e8" stroke-width="1.3"/>
<circle cx="650" cy="1261" r="2.55" fill="none" stroke="#a8d8e8" stroke-width="1.3"/>
<circle cx="655" cy="1262" r="2.55" fill="none" stroke="#a8d8e8" stroke-width="1.3"/>
<circle cx="660" cy="1261" r="2.55" fill="none" stroke="#a8d8e8" stroke-width="1.3"/>
<circle cx="660.5" cy="1241.5" r="2.55" fill="none" stroke="#a8d8e8" stroke-width="1.3"/>
<circle cx="664" cy="1241.5" r="2.55" fill="none" stroke="#a8d8e8" stroke-width="1.3"/>
<circle cx="666.5" cy="1254" r="2.55" fill="none" stroke="#a8d8e8" stroke-width="1.3"/>
<circle cx="677.8" cy="1268" r="2.55" fill="none" stroke="#a8d8e8" stroke-width="1.3"/>
<circle cx="686" cy="1250" r="2.55" fill="none" stroke="#a8d8e8" stroke-width="1.3"/>
<circle cx="688" cy="1258" r="2.55" fill="none" stroke="#a8d8e8" stroke-width="1.3"/>
<circle cx="691" cy="1259.5" r="2.55" fill="none" stroke="#a8d8e8" stroke-width="1.3"/>
<circle cx="688.5" cy="1264.3" r="2.55" fill="none" stroke="#a8d8e8" stroke-width="1.3"/>
<circle cx="699.2" cy="1230" r="2.55" fill="none" stroke="#a8d8e8" stroke-width="1.3"/>
<circle cx="697" cy="1244" r="2.55" fill="none" stroke="#a8d8e8" stroke-width="1.3"/>
<circle cx="700" cy="1252" r="2.55" fill="none" stroke="#a8d8e8" stroke-width="1.3"/>
<circle cx="702" cy="1258" r="2.55" fill="none" stroke="#a8d8e8" stroke-width="1.3"/>
<circle cx="706" cy="1238" r="2.55" fill="none" stroke="#a8d8e8" stroke-width="1.3"/>
<circle cx="712" cy="1262" r="2.55" fill="none" stroke="#a8d8e8" stroke-width="1.3"/>
<circle cx="603" cy="1226" r="2.55" fill="none" stroke="#a8d8e8" stroke-width="1.3"/>
<circle cx="603" cy="1250" r="2.55" fill="none" stroke="#a8d8e8" stroke-width="1.3"/>
<rect x="588.2" y="1225.7" width="6.9" height="39.6" rx="3.2" fill="#525252"/>
<circle cx="591.6" cy="1262.3" r="2.6" fill="none" stroke="#525252" stroke-width="1.5"/>
<circle cx="591.6" cy="1262.3" r="1.6" fill="#fff"/>
<line x1="332.8" y1="1249" x2="894.5" y2="1249" stroke="#f2a25a" stroke-width="3.5"/>
<line x1="357" y1="1248.5" x2="549.6" y2="1248.5" stroke="#cc0000" stroke-width="5.2"/>
<line x1="578" y1="1248.5" x2="713" y2="1248.5" stroke="#cc0000" stroke-width="5.2"/>
<line x1="744.2" y1="1248.5" x2="868.9" y2="1248.5" stroke="#cc0000" stroke-width="5.2"/>
<rect x="332" y="1125.8" width="563.3" height="234.8" fill="none" stroke="#1c1c1c" stroke-width="1.6"/>
<line x1="328.2" y1="1136.6" x2="332" y2="1136.6" stroke="#1c1c1c" stroke-width="1.8"/>
<line x1="328.2" y1="1192.4" x2="332" y2="1192.4" stroke="#1c1c1c" stroke-width="1.8"/>
<line x1="328.2" y1="1248.2" x2="332" y2="1248.2" stroke="#1c1c1c" stroke-width="1.8"/>
<line x1="328.2" y1="1304" x2="332" y2="1304" stroke="#1c1c1c" stroke-width="1.8"/>
<line x1="328.2" y1="1359.8" x2="332" y2="1359.8" stroke="#1c1c1c" stroke-width="1.8"/>
<rect x="332.2" y="1418.5" width="565.1" height="227.8" fill="#fff"/>
<line x1="363.2" y1="1418.5" x2="363.2" y2="1646.3" stroke="#bdbdbd" stroke-width="1"/>
<line x1="543.3" y1="1418.5" x2="543.3" y2="1646.3" stroke="#bdbdbd" stroke-width="1"/>
<line x1="713.5" y1="1418.5" x2="713.5" y2="1646.3" stroke="#bdbdbd" stroke-width="1"/>
<line x1="883.6" y1="1418.5" x2="883.6" y2="1646.3" stroke="#bdbdbd" stroke-width="1"/>
<line x1="333.2" y1="1449.05" x2="895.3" y2="1449.05" stroke="#ebebeb" stroke-width="1.3"/>
<line x1="333.2" y1="1504.55" x2="895.3" y2="1504.55" stroke="#ebebeb" stroke-width="1.3"/>
<line x1="333.2" y1="1560.05" x2="895.3" y2="1560.05" stroke="#ebebeb" stroke-width="1.3"/>
<line x1="333.2" y1="1615.55" x2="895.3" y2="1615.55" stroke="#ebebeb" stroke-width="1.3"/>
<line x1="333.2" y1="1421.3" x2="895.3" y2="1421.3" stroke="#e8e8e8" stroke-width="2.2"/>
<line x1="333.2" y1="1476.8" x2="895.3" y2="1476.8" stroke="#e8e8e8" stroke-width="2.2"/>
<line x1="333.2" y1="1532.3" x2="895.3" y2="1532.3" stroke="#e8e8e8" stroke-width="2.2"/>
<line x1="333.2" y1="1587.8" x2="895.3" y2="1587.8" stroke="#e8e8e8" stroke-width="2.2"/>
<line x1="333.2" y1="1643.3" x2="895.3" y2="1643.3" stroke="#e8e8e8" stroke-width="2.2"/>
<line x1="591.4" y1="1418.5" x2="591.4" y2="1646.3" stroke="#ff89b2" stroke-width="3.2"/>
<circle cx="375.4" cy="1520" r="2.55" fill="none" stroke="#bebebe" stroke-width="1.3"/>
<circle cx="397.5" cy="1510.8" r="2.55" fill="none" stroke="#bebebe" stroke-width="1.3"/>
<circle cx="383" cy="1533.8" r="2.55" fill="none" stroke="#bebebe" stroke-width="1.3"/>
<circle cx="380" cy="1537" r="2.55" fill="none" stroke="#bebebe" stroke-width="1.3"/>
<circle cx="388.3" cy="1537" r="2.55" fill="none" stroke="#bebebe" stroke-width="1.3"/>
<circle cx="364" cy="1549.2" r="2.55" fill="none" stroke="#bebebe" stroke-width="1.3"/>
<circle cx="358.5" cy="1575" r="2.55" fill="none" stroke="#bebebe" stroke-width="1.3"/>
<circle cx="424" cy="1520" r="2.55" fill="none" stroke="#bebebe" stroke-width="1.3"/>
<circle cx="426.2" cy="1534.8" r="2.55" fill="none" stroke="#bebebe" stroke-width="1.3"/>
<circle cx="423" cy="1541" r="2.55" fill="none" stroke="#bebebe" stroke-width="1.3"/>
<circle cx="426.5" cy="1549.2" r="2.55" fill="none" stroke="#bebebe" stroke-width="1.3"/>
<circle cx="433.2" cy="1544.6" r="2.55" fill="none" stroke="#bebebe" stroke-width="1.3"/>
<circle cx="439.7" cy="1503" r="2.55" fill="none" stroke="#bebebe" stroke-width="1.3"/>
<circle cx="441" cy="1510.8" r="2.55" fill="none" stroke="#bebebe" stroke-width="1.3"/>
<circle cx="447.4" cy="1514.5" r="2.55" fill="none" stroke="#bebebe" stroke-width="1.3"/>
<circle cx="443.7" cy="1526.8" r="2.55" fill="none" stroke="#bebebe" stroke-width="1.3"/>
<circle cx="455.7" cy="1521.8" r="2.55" fill="none" stroke="#bebebe" stroke-width="1.3"/>
<circle cx="473.8" cy="1541" r="2.55" fill="none" stroke="#bebebe" stroke-width="1.3"/>
<circle cx="490.2" cy="1505" r="2.55" fill="none" stroke="#bebebe" stroke-width="1.3"/>
<circle cx="510.2" cy="1540.3" r="2.55" fill="none" stroke="#bebebe" stroke-width="1.3"/>
<circle cx="518.5" cy="1520.6" r="2.55" fill="none" stroke="#bebebe" stroke-width="1.3"/>
<circle cx="518.5" cy="1524.6" r="2.55" fill="none" stroke="#bebebe" stroke-width="1.3"/>
<circle cx="518.5" cy="1531.7" r="2.55" fill="none" stroke="#bebebe" stroke-width="1.3"/>
<circle cx="518.5" cy="1535.4" r="2.55" fill="none" stroke="#bebebe" stroke-width="1.3"/>
<circle cx="518.5" cy="1541.5" r="2.55" fill="none" stroke="#bebebe" stroke-width="1.3"/>
<circle cx="518.5" cy="1547" r="2.55" fill="none" stroke="#bebebe" stroke-width="1.3"/>
<circle cx="527.4" cy="1517" r="2.55" fill="none" stroke="#bebebe" stroke-width="1.3"/>
<circle cx="533.2" cy="1525.5" r="2.55" fill="none" stroke="#bebebe" stroke-width="1.3"/>
<circle cx="533.2" cy="1529.2" r="2.55" fill="none" stroke="#bebebe" stroke-width="1.3"/>
<circle cx="532.3" cy="1536" r="2.55" fill="none" stroke="#bebebe" stroke-width="1.3"/>
<circle cx="532" cy="1542.2" r="2.55" fill="none" stroke="#bebebe" stroke-width="1.3"/>
<circle cx="537" cy="1561" r="2.55" fill="none" stroke="#bebebe" stroke-width="1.3"/>
<circle cx="745" cy="1494" r="2.55" fill="none" stroke="#bebebe" stroke-width="1.3"/>
<circle cx="746.3" cy="1504.2" r="2.55" fill="none" stroke="#bebebe" stroke-width="1.3"/>
<circle cx="744.4" cy="1553.5" r="2.55" fill="none" stroke="#bebebe" stroke-width="1.3"/>
<circle cx="769" cy="1523" r="2.55" fill="none" stroke="#bebebe" stroke-width="1.3"/>
<circle cx="799.4" cy="1503.7" r="2.55" fill="none" stroke="#bebebe" stroke-width="1.3"/>
<circle cx="802" cy="1527.6" r="2.55" fill="none" stroke="#bebebe" stroke-width="1.3"/>
<circle cx="801" cy="1530.3" r="2.55" fill="none" stroke="#bebebe" stroke-width="1.3"/>
<circle cx="800.4" cy="1532.5" r="2.55" fill="none" stroke="#bebebe" stroke-width="1.3"/>
<circle cx="815.8" cy="1554.8" r="2.55" fill="none" stroke="#bebebe" stroke-width="1.3"/>
<circle cx="821.4" cy="1521.2" r="2.55" fill="none" stroke="#bebebe" stroke-width="1.3"/>
<circle cx="833.6" cy="1538.1" r="2.55" fill="none" stroke="#bebebe" stroke-width="1.3"/>
<circle cx="833.6" cy="1546.2" r="2.55" fill="none" stroke="#bebebe" stroke-width="1.3"/>
<circle cx="839" cy="1529.8" r="2.55" fill="none" stroke="#bebebe" stroke-width="1.3"/>
<circle cx="842.4" cy="1522.2" r="2.55" fill="none" stroke="#bebebe" stroke-width="1.3"/>
<circle cx="866.4" cy="1525.2" r="2.55" fill="none" stroke="#bebebe" stroke-width="1.3"/>
<circle cx="867" cy="1546.2" r="2.55" fill="none" stroke="#bebebe" stroke-width="1.3"/>
<circle cx="597.4" cy="1567.5" r="2.55" fill="none" stroke="#a8d8e8" stroke-width="1.3"/>
<circle cx="597.4" cy="1583.9" r="2.55" fill="none" stroke="#a8d8e8" stroke-width="1.3"/>
<circle cx="620.6" cy="1567.5" r="2.55" fill="none" stroke="#a8d8e8" stroke-width="1.3"/>
<circle cx="620.9" cy="1575" r="2.55" fill="none" stroke="#a8d8e8" stroke-width="1.3"/>
<circle cx="617.4" cy="1585.2" r="2.55" fill="none" stroke="#a8d8e8" stroke-width="1.3"/>
<circle cx="660.7" cy="1483" r="2.55" fill="none" stroke="#a8d8e8" stroke-width="1.3"/>
<circle cx="687.6" cy="1502.3" r="2.55" fill="none" stroke="#a8d8e8" stroke-width="1.3"/>
<circle cx="676.9" cy="1569.6" r="2.55" fill="none" stroke="#a8d8e8" stroke-width="1.3"/>
<circle cx="681.2" cy="1576.4" r="2.55" fill="none" stroke="#a8d8e8" stroke-width="1.3"/>
<circle cx="703.2" cy="1573.4" r="2.55" fill="none" stroke="#a8d8e8" stroke-width="1.3"/>
<circle cx="709.4" cy="1471.6" r="2.55" fill="none" stroke="#a8d8e8" stroke-width="1.3"/>
<circle cx="709.4" cy="1480.8" r="2.55" fill="none" stroke="#a8d8e8" stroke-width="1.3"/>
<circle cx="711.3" cy="1582.6" r="2.55" fill="none" stroke="#a8d8e8" stroke-width="1.3"/>
<line x1="357.5" y1="1525.2" x2="549.2" y2="1525.2" stroke="#cc0000" stroke-width="5"/>
<line x1="357.5" y1="1539.4" x2="549.2" y2="1539.4" stroke="#cc0000" stroke-width="5"/>
<line x1="578.4" y1="1486.4" x2="713" y2="1486.4" stroke="#cc0000" stroke-width="5"/>
<line x1="578.4" y1="1578.3" x2="713" y2="1578.3" stroke="#cc0000" stroke-width="5"/>
<line x1="744.4" y1="1517.7" x2="869.1" y2="1517.7" stroke="#cc0000" stroke-width="5"/>
<line x1="744.4" y1="1546.7" x2="869.1" y2="1546.7" stroke="#cc0000" stroke-width="5"/>
<circle cx="591.2" cy="1567.2" r="2.55" fill="none" stroke="#525252" stroke-width="1.5"/>
<rect x="332.2" y="1418.5" width="565.1" height="227.8" fill="none" stroke="#1c1c1c" stroke-width="1.6"/>
<line x1="328.4" y1="1421.3" x2="332.2" y2="1421.3" stroke="#1c1c1c" stroke-width="1.8"/>
<line x1="328.4" y1="1476.8" x2="332.2" y2="1476.8" stroke="#1c1c1c" stroke-width="1.8"/>
<line x1="328.4" y1="1532.3" x2="332.2" y2="1532.3" stroke="#1c1c1c" stroke-width="1.8"/>
<line x1="328.4" y1="1587.8" x2="332.2" y2="1587.8" stroke="#1c1c1c" stroke-width="1.8"/>
<line x1="328.4" y1="1643.3" x2="332.2" y2="1643.3" stroke="#1c1c1c" stroke-width="1.8"/>
<rect x="332" y="1704" width="565.3" height="235" fill="#fff"/>
<line x1="363.4" y1="1704" x2="363.4" y2="1939" stroke="#bdbdbd" stroke-width="1"/>
<line x1="543.4" y1="1704" x2="543.4" y2="1939" stroke="#bdbdbd" stroke-width="1"/>
<line x1="713.5" y1="1704" x2="713.5" y2="1939" stroke="#bdbdbd" stroke-width="1"/>
<line x1="883.5" y1="1704" x2="883.5" y2="1939" stroke="#bdbdbd" stroke-width="1"/>
<line x1="333" y1="1742.75" x2="895.3" y2="1742.75" stroke="#ebebeb" stroke-width="1.3"/>
<line x1="333" y1="1816.85" x2="895.3" y2="1816.85" stroke="#ebebeb" stroke-width="1.3"/>
<line x1="333" y1="1890.95" x2="895.3" y2="1890.95" stroke="#ebebeb" stroke-width="1.3"/>
<line x1="333" y1="1779.8" x2="895.3" y2="1779.8" stroke="#e8e8e8" stroke-width="2.2"/>
<line x1="333" y1="1853.9" x2="895.3" y2="1853.9" stroke="#e8e8e8" stroke-width="2.2"/>
<line x1="333" y1="1928" x2="895.3" y2="1928" stroke="#e8e8e8" stroke-width="2.2"/>
<line x1="591.4" y1="1704" x2="591.4" y2="1939" stroke="#ff89b2" stroke-width="3.2"/>
<line x1="591.3" y1="1939.2" x2="572.6" y2="1958.6" stroke="#ff89b2" stroke-width="1.4"/>
<line x1="357.5" y1="1779.8" x2="548.8" y2="1779.8" stroke="#000" stroke-width="5"/>
<line x1="578.3" y1="1779.8" x2="712.9" y2="1779.8" stroke="#000" stroke-width="5"/>
<line x1="744.4" y1="1779.8" x2="869" y2="1779.8" stroke="#000" stroke-width="5"/>
<line x1="357.5" y1="1853.9" x2="548.8" y2="1853.9" stroke="#ff0000" stroke-width="4.6"/>
<line x1="744.4" y1="1853.9" x2="869" y2="1853.9" stroke="#ff0000" stroke-width="4.6"/>
<line x1="578.3" y1="1928" x2="712.9" y2="1928" stroke="#ff0000" stroke-width="4.6"/>
<rect x="332" y="1704" width="565.3" height="235" fill="none" stroke="#1c1c1c" stroke-width="1.6"/>
<line x1="328.2" y1="1779.8" x2="332" y2="1779.8" stroke="#1c1c1c" stroke-width="1.8"/>
<line x1="328.2" y1="1853.9" x2="332" y2="1853.9" stroke="#1c1c1c" stroke-width="1.8"/>
<line x1="328.2" y1="1928" x2="332" y2="1928" stroke="#1c1c1c" stroke-width="1.8"/>
<g font-family="Liberation Sans, sans-serif">
<text x="1.6" y="1144.3" font-size="45" font-weight="bold">b)</text>
<text x="315.1" y="1143.8" font-size="21.5" text-anchor="middle">2</text>
<text x="314.6" y="1257.2" font-size="21.5" text-anchor="middle">0</text>
<text x="315.1" y="1364.6" font-size="21.5" text-anchor="middle">-2</text>
<text x="315.45" y="1426.8" font-size="21.5" text-anchor="middle">4</text>
<text x="315.35" y="1539.7" font-size="21.5" text-anchor="middle">0</text>
<text x="314.6" y="1647.5" font-size="21.5" text-anchor="middle">4</text>
<text x="318.45" y="1785" font-size="21.5" text-anchor="middle">2</text>
<text x="318.1" y="1861.9" font-size="21.5" text-anchor="middle">1</text>
<text x="318.55" y="1934.5" font-size="21.5" text-anchor="middle">0</text>
<text transform="translate(254.9,1252.7) rotate(-90)" font-size="22" font-weight="bold" text-anchor="middle">log-ratio</text>
<text transform="translate(256.4,1532.8) rotate(-90)" font-size="22" font-weight="bold" text-anchor="middle">log-odds-ratio</text>
<text transform="translate(254.8,1827) rotate(-90)" font-size="22" font-weight="bold" text-anchor="middle">Integer copy</text>
<text transform="translate(276.6,1827.5) rotate(-90)" font-size="22" font-weight="bold" text-anchor="middle">number</text>
<text x="453.4" y="1972.4" font-size="18.8" text-anchor="middle">12</text>
<text x="634.1" y="1972.4" font-size="18.8" text-anchor="middle">13</text>
<text x="794.4" y="1972.4" font-size="18.8" text-anchor="middle">14</text>
<text transform="translate(539.6,1998.6) rotate(-45)" font-size="19.5" font-weight="bold">FLT3</text>
<text x="641.5" y="2024.3" font-size="18.6" font-weight="bold" text-anchor="middle">Chromosome</text>
</g></svg>
</body></html>
